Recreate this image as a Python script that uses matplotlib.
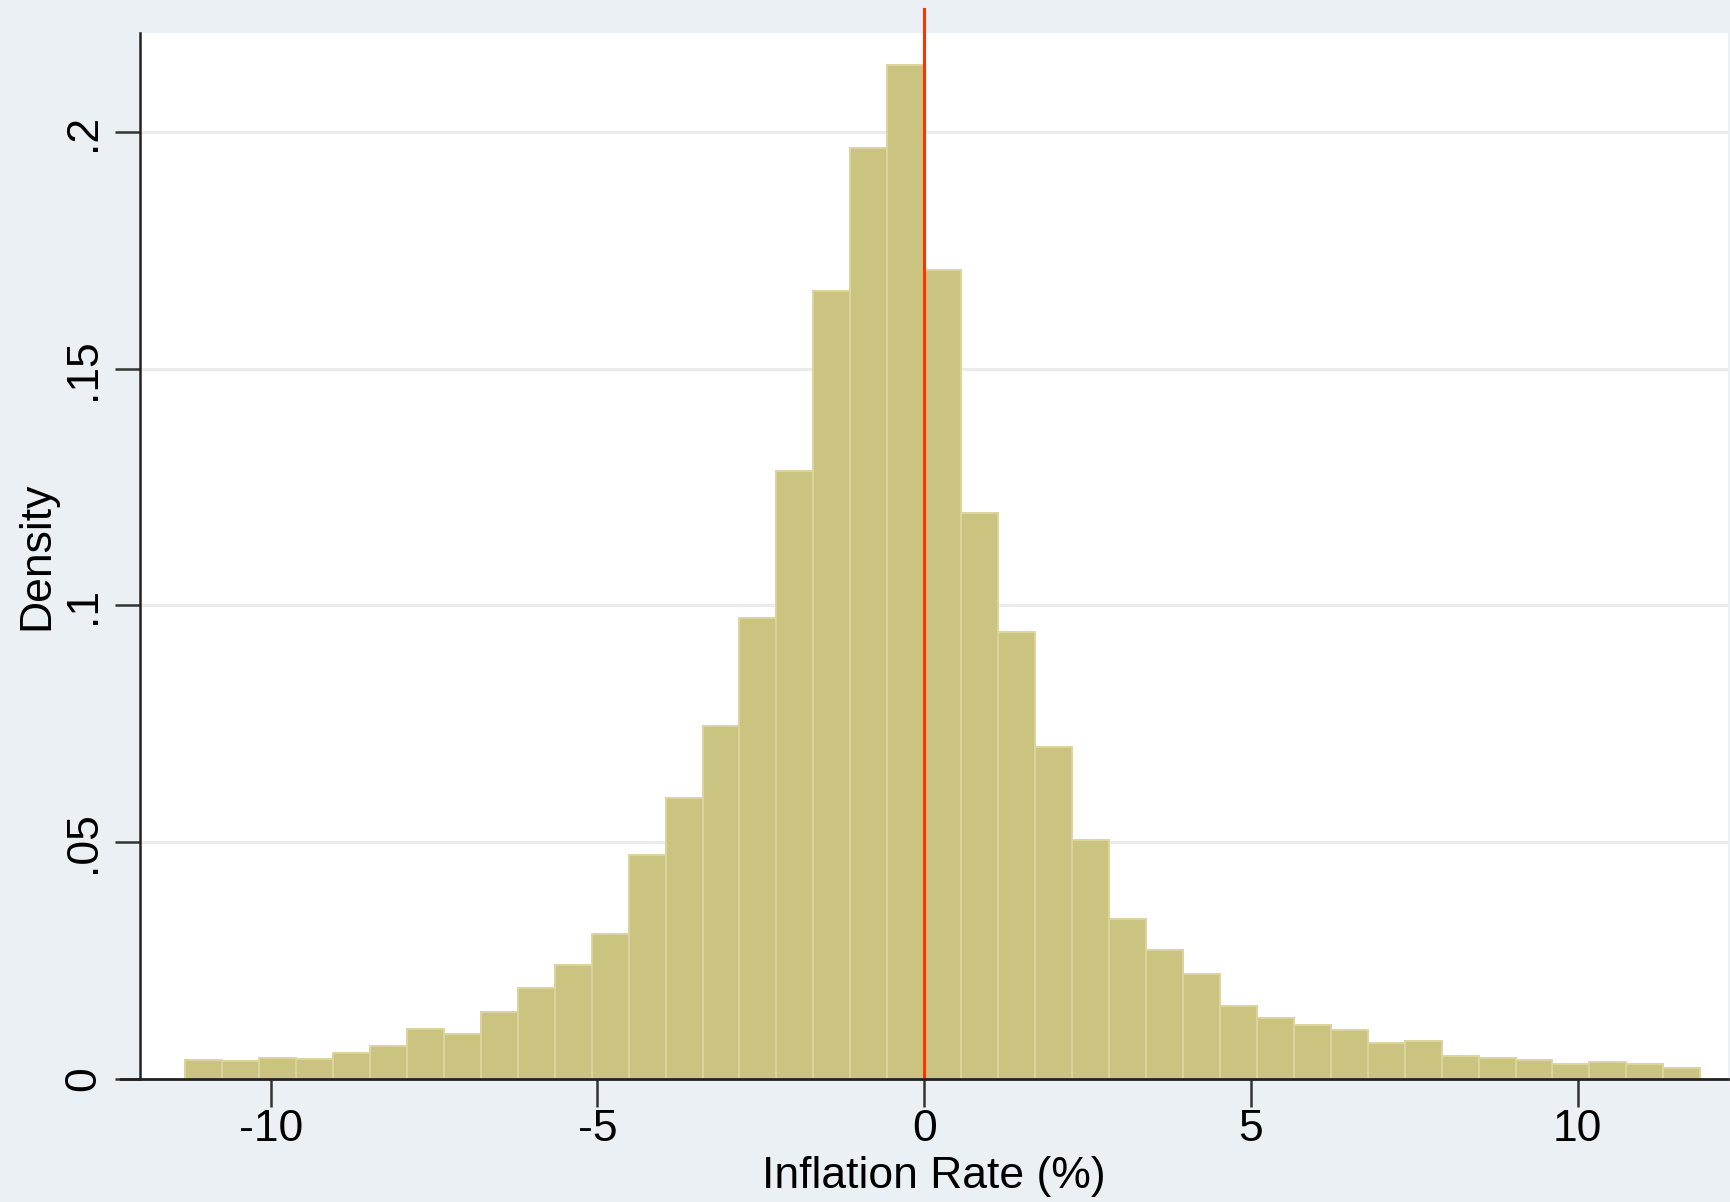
import numpy as np
import matplotlib
matplotlib.use("Agg")
import matplotlib.pyplot as plt

plt.rcParams["font.family"] = ["Liberation Sans", "DejaVu Sans"]
plt.rcParams["axes.unicode_minus"] = False

# histogram: 41 equal bins, density
BIN_START = -11.31
BIN_WIDTH = 0.5655
density = [0.0039, 0.0038, 0.0043, 0.0042, 0.0055, 0.0068, 0.0104, 0.0095, 0.0140, 0.0191,
           0.0241, 0.0306, 0.0472, 0.0594, 0.0745, 0.0974, 0.1284, 0.1664, 0.1968, 0.2143,
           0.1710, 0.1196, 0.0943, 0.0700, 0.0504, 0.0338, 0.0272, 0.0220, 0.0153, 0.0127,
           0.0114, 0.0102, 0.0075, 0.0080, 0.0048, 0.0044, 0.0039, 0.0030, 0.0035, 0.0030,
           0.0022]
xticks = [-10, -5, 0, 5, 10]
xticklabels = ["-10", "-5", "0", "5", "10"]
yticks = [0, 0.05, 0.1, 0.15, 0.2]
yticklabels = ["0", ".05", ".1", ".15", ".2"]
ref_line = 0

BG = "#EAF0F3"
BAR = "#CBC380"
BAR_EDGE = "#DCD49B"
FS = 32

fig = plt.figure(figsize=(17.31, 12.02), dpi=100, facecolor=BG)
ax = fig.add_axes([0.0809, 0.1027, 0.9174, 0.8698])
ax.set_facecolor("white")

lefts = BIN_START + BIN_WIDTH * np.arange(len(density))
ax.bar(lefts, density, width=BIN_WIDTH, align="edge", color=BAR,
       edgecolor=BAR_EDGE, linewidth=1.4, zorder=2)

ax.set_xlim(-12.0, 12.3)
ax.set_ylim(0, 0.221)

# light horizontal grid (no line at 0)
for y in yticks[1:]:
    ax.axhline(y, color="#EBEBEB", lw=2.2, zorder=1)

# red reference line at 0, running above the plot region
ax.plot([ref_line, ref_line], [0, 0.226], color="#FF3300", lw=2.2, zorder=4, clip_on=False)

ax.set_xticks(xticks)
ax.set_xticklabels(xticklabels, fontsize=FS)
ax.set_yticks(yticks)
ax.set_yticklabels(yticklabels, fontsize=FS, rotation=90, va="center")
ax.tick_params(axis="x", length=20, width=1.8, color="#333333", pad=2)
ax.tick_params(axis="y", length=18, width=1.8, color="#333333", pad=8)

for sp in ("top", "right", "bottom"):
    ax.spines[sp].set_visible(False)
ax.spines["left"].set_linewidth(1.8)
ax.spines["left"].set_color("#222222")
# x axis line reaches a bit left of the y axis, Stata style
ax.plot([-0.012, 1.0], [0, 0], transform=ax.transAxes, color="#222222", lw=2.0,
        clip_on=False, zorder=5)

ax.set_xlabel("Inflation Rate (%)", fontsize=FS, labelpad=4)
ax.set_ylabel("Density", fontsize=FS, labelpad=4)

fig.savefig("out.png", dpi=100, facecolor=BG)
